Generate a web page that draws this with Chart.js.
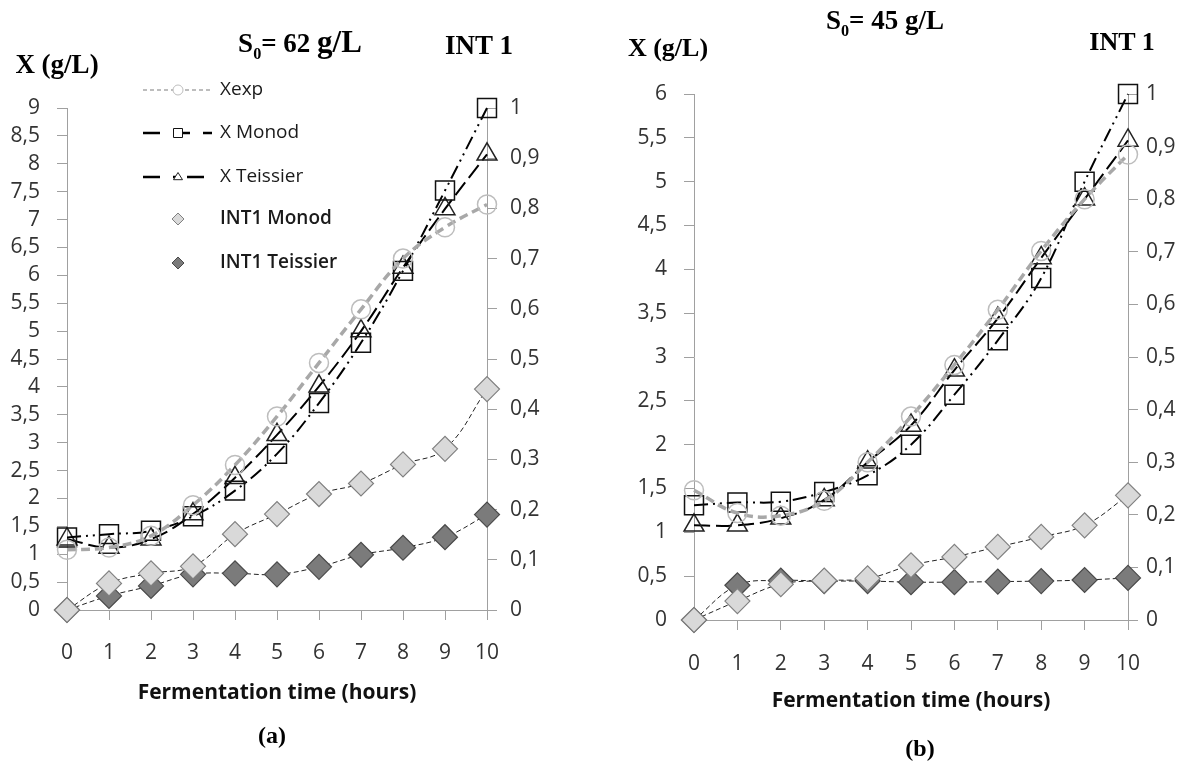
<!DOCTYPE html>
<html lang="en">
<head>
<meta charset="UTF-8">
<title>X and INT1 vs fermentation time</title>
<script src="https://cdn.jsdelivr.net/npm/chart.js@4.4.1/dist/chart.umd.min.js"></script>
<style>
  body { margin: 0; background: #fff; }
  #wrap { position: relative; width: 1195px; height: 763px; overflow: hidden; }
  canvas { position: absolute; top: 0; }
  .t { position: absolute; font-family: "Liberation Serif", serif; font-weight: bold; color: #000;
       white-space: nowrap; transform: translate(-50%, -50%); font-size: 27px; }
  .t sub { font-size: 60%; }
</style>
</head>
<body>
<div id="wrap">
  <canvas id="chartA" width="580" height="763" style="left:0"></canvas>
  <canvas id="chartB" width="615" height="763" style="left:580px"></canvas>

  <div class="t" style="left:57px;top:64px">X (g/L)</div>
  <div class="t" style="left:300px;top:44px">S<sub>0</sub>= 62 <span style="font-size:31px">g/L</span></div>
  <div class="t" style="left:479px;top:45px">INT 1</div>
  <div class="t" style="left:272px;top:735px;font-size:24px">(a)</div>

  <div class="t" style="left:668px;top:48px;font-size:26px">X (g/L)</div>
  <div class="t" style="left:885px;top:23px;font-size:27px">S<sub>0</sub>= 45 g/L</div>
  <div class="t" style="left:1122px;top:42px;font-size:26px">INT 1</div>
  <div class="t" style="left:920px;top:748px;font-size:24px">(b)</div>
</div>

<script>
// fermentation time (hours)
const hours = [0, 1, 2, 3, 4, 5, 6, 7, 8, 9, 10];

// (a) S0 = 62 g/L
const xExpA       = [1.08, 1.12, 1.33, 1.88, 2.6, 3.47, 4.43, 5.39, 6.3, 6.86, 7.27];
const xMonodA     = [1.3, 1.36, 1.42, 1.68, 2.14, 2.8, 3.71, 4.79, 6.08, 7.52, 9.0];
const xTeissierA  = [1.27, 1.12, 1.27, 1.72, 2.37, 3.14, 4.01, 5.0, 6.14, 7.19, 8.17];
const int1MonodA  = [0, 0.053, 0.073, 0.087, 0.151, 0.191, 0.231, 0.252, 0.29, 0.321, 0.44];
const int1TeissA  = [0, 0.028, 0.048, 0.071, 0.073, 0.071, 0.086, 0.11, 0.124, 0.145, 0.19];

// (b) S0 = 45 g/L
const xExpB       = [1.48, 1.22, 1.19, 1.36, 1.8, 2.32, 2.91, 3.54, 4.21, 4.8, 5.31];
const xMonodB     = [1.31, 1.34, 1.35, 1.46, 1.65, 2.0, 2.57, 3.19, 3.9, 5.0, 6.0];
const xTeissierB  = [1.08, 1.08, 1.16, 1.37, 1.8, 2.22, 2.85, 3.44, 4.13, 4.8, 5.47];
const int1MonodB  = [0, 0.036, 0.068, 0.075, 0.079, 0.104, 0.12, 0.139, 0.158, 0.18, 0.237];
const int1TeissB  = [0, 0.066, 0.075, 0.074, 0.074, 0.072, 0.072, 0.073, 0.074, 0.076, 0.08];

const seriesNames = ['Xexp', 'X Monod', 'X Teissier', 'INT1 Monod', 'INT1 Teissier'];

const tickFont = { family: 'Open Sans', size: 21 };
const axisGray = '#a0a0a0';
const comma = v => String(Math.round(v * 100) / 100).replace('.', ',');

function buildDatasets(exp, monod, teiss, im, it) {
  return [
    { label: seriesNames[0], data: exp, yAxisID: 'y', borderColor: '#a8a8a8', borderWidth: 3.5,
      borderDash: [9, 5], pointStyle: 'circle', pointRadius: 9.5, pointBorderColor: '#bdbdbd',
      pointBorderWidth: 1.5, pointBackgroundColor: 'rgba(0,0,0,0)', tension: 0.4, clip: false },
    { label: seriesNames[1], data: monod, yAxisID: 'y', borderColor: '#000', borderWidth: 2,
      borderDash: [14, 5, 2, 5, 2, 5], pointStyle: 'rect', pointRadius: 13.4, pointBorderColor: '#111',
      pointBorderWidth: 1.5, pointBackgroundColor: 'rgba(0,0,0,0)', tension: 0.4, clip: false },
    { label: seriesNames[2], data: teiss, yAxisID: 'y', borderColor: '#000', borderWidth: 2,
      borderDash: [16, 6], pointStyle: 'triangle', pointRadius: 11.5, pointBorderColor: '#222',
      pointBorderWidth: 1.5, pointBackgroundColor: 'rgba(0,0,0,0)', tension: 0.4, clip: false },
    { label: seriesNames[3], data: im, yAxisID: 'y2', borderColor: '#222', borderWidth: 1,
      borderDash: [5, 3], pointStyle: 'rectRot', pointRadius: 12.5, pointBorderColor: '#808080',
      pointBorderWidth: 1.2, pointBackgroundColor: '#d9d9d9', tension: 0.4, clip: false },
    { label: seriesNames[4], data: it, yAxisID: 'y2', borderColor: '#222', borderWidth: 1,
      borderDash: [5, 3], pointStyle: 'rectRot', pointRadius: 12.5, pointBorderColor: '#4a4a4a',
      pointBorderWidth: 1.2, pointBackgroundColor: '#7b7b7b', tension: 0.4, clip: false }
  ];
}

// small marker for the legend
function drawMarker(ctx, style, x, y, r, fill, stroke) {
  ctx.beginPath();
  if (style === 'circle') ctx.arc(x, y, r, 0, Math.PI * 2);
  else if (style === 'rect') ctx.rect(x - r, y - r, 2 * r, 2 * r);
  else if (style === 'triangle') { ctx.moveTo(x, y - r); ctx.lineTo(x + r, y + r * 0.6); ctx.lineTo(x - r, y + r * 0.6); ctx.closePath(); }
  else { ctx.moveTo(x, y - r); ctx.lineTo(x + r, y); ctx.lineTo(x, y + r); ctx.lineTo(x - r, y); ctx.closePath(); }
  ctx.fillStyle = fill; ctx.fill();
  ctx.strokeStyle = stroke; ctx.lineWidth = 1; ctx.stroke();
}

const legendRows = [90, 133, 177, 219, 263];
const legendPlugin = {
  id: 'sideLegend',
  afterDraw(chart) {
    const ctx = chart.ctx;
    ctx.save();
    chart.data.datasets.forEach((ds, i) => {
      const y = legendRows[i];
      const isX = i < 3;
      if (isX) {
        ctx.beginPath();
        ctx.setLineDash(i === 0 ? [4, 3] : (i === 1 ? [17, 13] : [17, 13, 7, 7]));
        ctx.strokeStyle = ds.borderColor;
        ctx.lineWidth = i === 0 ? 1.5 : 2.5;
        ctx.moveTo(143, y); ctx.lineTo(212, y);
        ctx.stroke();
        ctx.setLineDash([]);
        drawMarker(ctx, ds.pointStyle, 178, y, i === 0 ? 5 : 4.5, '#fff', ds.pointBorderColor);
      } else {
        drawMarker(ctx, ds.pointStyle, 178, y, 6, ds.pointBackgroundColor, ds.pointBorderColor);
      }
      ctx.fillStyle = '#1a1a1a';
      ctx.font = (isX ? '' : '600 ') + '19px "Open Sans"';
      ctx.textBaseline = 'middle';
      ctx.textAlign = 'left';
      ctx.fillText(ds.label, 220, y);
    });
    ctx.restore();
  }
};

function makeChart(id, cfg) {
  return new Chart(document.getElementById(id), {
    type: 'line',
    data: { labels: hours, datasets: cfg.datasets },
    options: {
      responsive: false,
      animation: false,
      devicePixelRatio: 1,
      layout: { padding: { top: cfg.top, bottom: cfg.padBottom, left: 0, right: 0 } },
      plugins: { legend: { display: false }, tooltip: { enabled: false } },
      scales: {
        x: {
          type: 'category', offset: false,
          border: { color: axisGray },
          grid: { drawOnChartArea: false, tickLength: 10, color: axisGray, offset: false },
          ticks: { font: tickFont, color: '#333', padding: cfg.xPad, maxRotation: 0, autoSkip: false },
          title: { display: true, text: 'Fermentation time (hours)', color: '#111',
                   font: { family: 'Open Sans', size: 21, weight: 'bold' }, padding: 0 },
          afterFit: s => { s.height = cfg.xHeight; }
        },
        y: {
          position: 'left', min: 0, max: cfg.yMax,
          border: { color: axisGray },
          grid: { drawOnChartArea: false, tickLength: 10, color: axisGray },
          ticks: { stepSize: 0.5, autoSkip: false, font: tickFont, color: '#333', padding: cfg.yPad, callback: comma },
          afterFit: s => { s.width = cfg.yWidth; }
        },
        y2: {
          position: 'right', min: 0, max: 1,
          border: { color: axisGray },
          grid: { drawOnChartArea: false, tickLength: 10, color: axisGray },
          ticks: { stepSize: 0.1, autoSkip: false, font: tickFont, color: '#333', padding: cfg.y2Pad, callback: comma },
          afterFit: s => { s.width = cfg.y2Width; }
        }
      }
    },
    plugins: cfg.legend ? [legendPlugin] : []
  });
}

// plot area (a): x 67..487, y 108..610
makeChart('chartA', {
  datasets: buildDatasets(xExpA, xMonodA, xTeissierA, int1MonodA, int1TeissA),
  yMax: 9, top: 108, yWidth: 67, y2Width: 93, xHeight: 96, padBottom: 57,
  xPad: 20, yPad: 17, y2Pad: 13, legend: true
});

// plot area (b): x 694..1128, y 94..620
makeChart('chartB', {
  datasets: buildDatasets(xExpB, xMonodB, xTeissierB, int1MonodB, int1TeissB),
  yMax: 6, top: 94, yWidth: 114, y2Width: 67, xHeight: 94, padBottom: 49,
  xPad: 21, yPad: 17, y2Pad: 8, legend: false
});
</script>
</body>
</html>
